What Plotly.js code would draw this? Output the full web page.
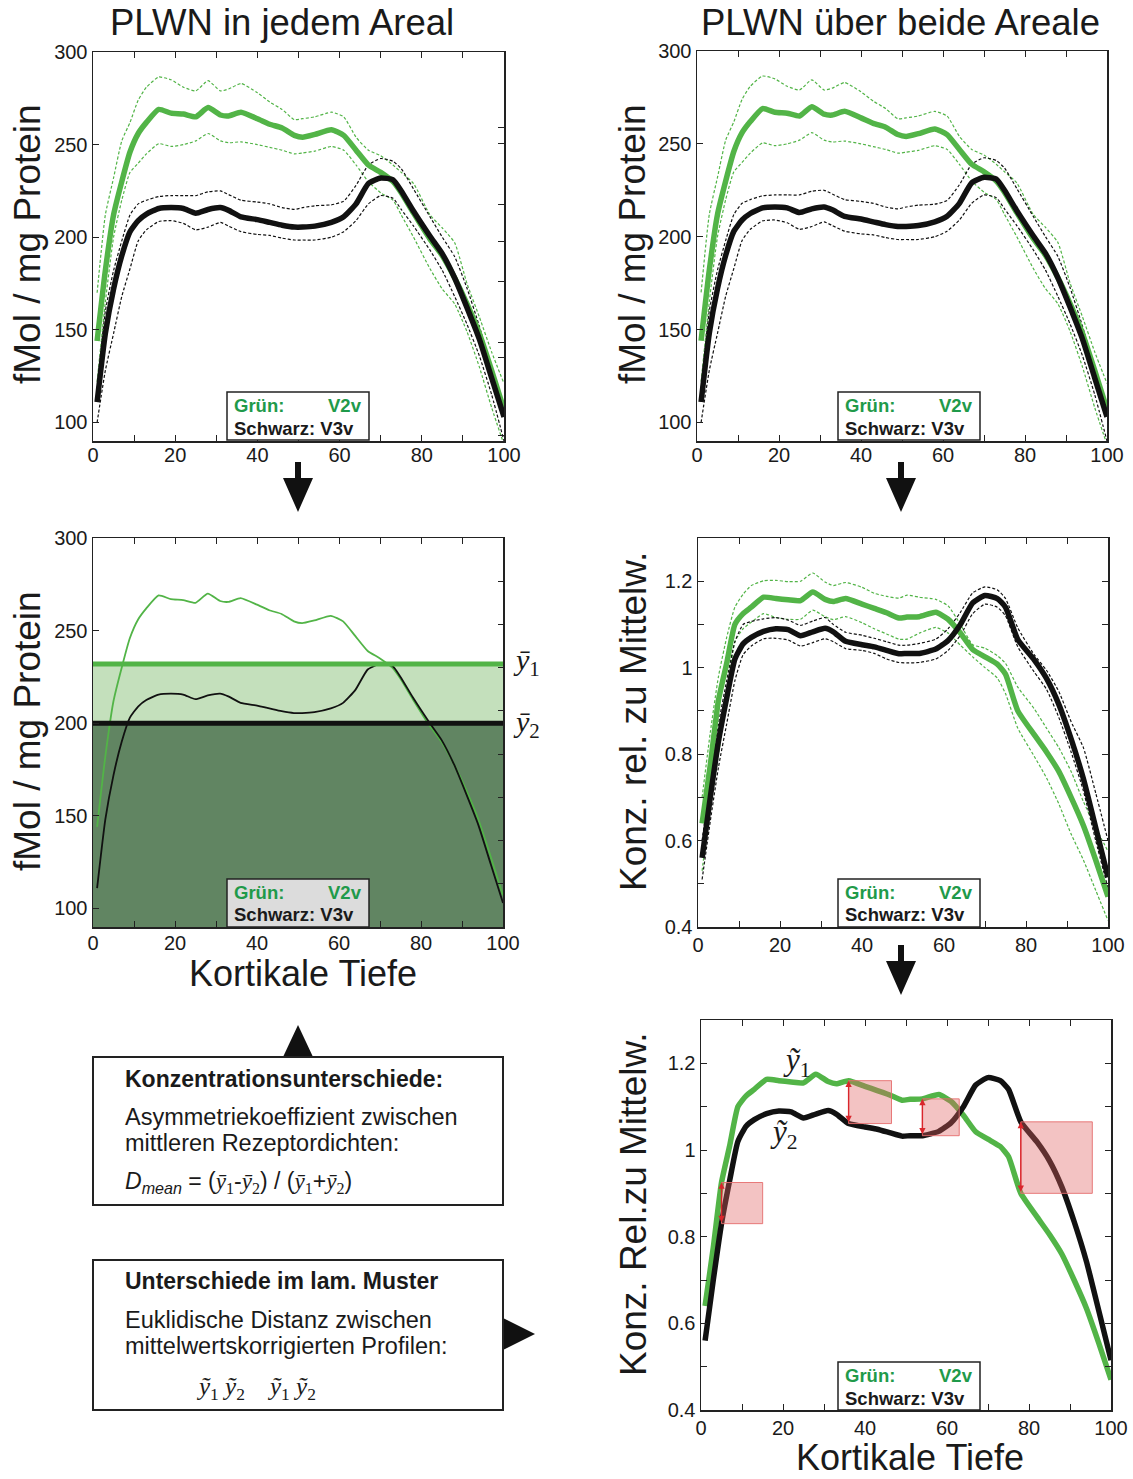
<!DOCTYPE html>
<html><head><meta charset="utf-8">
<script src="https://cdn.plot.ly/plotly-3.0.1.min.js"></script>
<style>body{margin:0;background:#fff}#c{width:1133px;height:1479px}</style>
</head><body><div id="c"></div>
<script>
// ---------- data ----------
const depth = [1,3,5,7,9,11,13,16,19,22,25,28,31,33,36,40,43,46,49,51,54,58,61,64,67,70,73,75,78,82,85,88,91,94,97,100];
// fMol / mg Protein
const v2vMean  = [144,182,212,230,246,256,262,269,267,266.5,265,270,266,265.5,267.5,264,261,259,255,254,255.5,258,255,247,239,235,230,224,213,199,190,178,164,148,128,107];
const v2vUpper = [170,212,232,252,262,274,281,286.5,285,281,279,284.5,279,280,283,278,273,269,263.5,264,265,267.5,265,254,247,244,239,235,229,212,205,197,175,157,138,121];
const v2vLower = [122,165,200,220,235,240,245,250.5,249,250,252,256,252,251,251.5,250,248.5,247,245,245.5,246.5,249,247,239,230,224,220,212,200,183,172,164,149,130,108,88];
const v3vMean  = [111,148,172,190,203,209,212.5,215.5,216,215.5,213,215,216,214.5,211,209.5,208,206.5,205.5,205.5,206,208,211,218,229,232,231,225,214,200.5,191,178,162,145,124,103];
const v3vUpper = [118,160,182,198,212,218,220,222,222.5,222.5,222.5,224.5,225,223,220,219,218,216,215,216,217,217.5,219.5,228,239,242.5,241,237,226,211,200,189.5,172.5,152,129,106];
const v3vLower = [100,128,148,168,183,198,204,208.5,209,207.5,204,205.5,208,206,203,201.5,201,199.5,198.5,198.5,198.5,200,203,209,218,222.5,221,215,206,193,182,168,153,136,115,90];
// mean values over the profile
const v2vAvg = 232, v3vAvg = 200;
// relative to mean
const v2vRel      = [0.64,0.775,0.925,1.01,1.10,1.125,1.14,1.163,1.16,1.157,1.155,1.175,1.158,1.153,1.16,1.147,1.137,1.127,1.115,1.117,1.118,1.128,1.112,1.08,1.042,1.025,1.008,0.985,0.90,0.845,0.805,0.76,0.70,0.635,0.555,0.47];
const v2vRelUpper = [0.70,0.85,0.98,1.07,1.14,1.17,1.19,1.201,1.202,1.199,1.20,1.219,1.198,1.19,1.197,1.186,1.172,1.165,1.161,1.168,1.163,1.158,1.143,1.10,1.053,1.045,1.028,1.01,0.955,0.905,0.86,0.815,0.76,0.69,0.63,0.575];
const v2vRelLower = [0.53,0.68,0.80,0.93,1.06,1.09,1.105,1.125,1.116,1.112,1.112,1.133,1.118,1.111,1.118,1.104,1.09,1.078,1.066,1.066,1.08,1.093,1.08,1.052,1.025,1.00,0.976,0.94,0.86,0.795,0.745,0.685,0.615,0.555,0.485,0.415];
const v3vRel      = [0.56,0.70,0.83,0.93,1.02,1.055,1.07,1.084,1.09,1.088,1.074,1.083,1.091,1.083,1.061,1.053,1.048,1.04,1.032,1.033,1.033,1.043,1.063,1.10,1.15,1.167,1.16,1.14,1.065,1.018,0.975,0.915,0.835,0.743,0.63,0.515];
const v3vRelUpper = [0.60,0.74,0.87,0.97,1.06,1.10,1.107,1.113,1.116,1.11,1.098,1.108,1.116,1.10,1.082,1.075,1.068,1.06,1.052,1.052,1.056,1.066,1.09,1.128,1.173,1.187,1.18,1.16,1.092,1.03,0.994,0.945,0.875,0.815,0.71,0.60];
const v3vRelLower = [0.51,0.645,0.77,0.87,0.97,1.03,1.05,1.067,1.068,1.064,1.05,1.058,1.067,1.06,1.044,1.04,1.033,1.02,1.012,1.011,1.012,1.02,1.04,1.075,1.125,1.147,1.14,1.12,1.048,0.99,0.95,0.885,0.805,0.715,0.60,0.49];
// depths where the differences are illustrated
const diffDepths = [5,36,54,78];
// tick labels
const xTickVals = [0,20,40,60,80,100];
const xTickText = ['0','20','40','60','80','100'];
const absTickVals = [100,150,200,250,300];
const absTickText = ['100','150','200','250','300'];
const relTickVals = [0.4,0.6,0.8,1.0,1.2];
const relTickText = ['0.4','0.6','0.8','1','1.2'];

// ---------- layout helpers ----------
const W=1133,H=1479;
const PX=x=>x/W, PY=y=>1-y/H;
const GREEN='#52b447', BLACK='#111111', LEG_GREEN='#1f9a4a';
const SANS='Liberation Sans, Arial, sans-serif';
const SERIF='Liberation Serif, Times New Roman, serif';
const TXT='#1a1a1a';

const P = {
  1:{x0:93,x1:504,y0:52,y1:441,so:-5},
  2:{x0:697,x1:1107,y0:51,y1:441,so:-5},
  3:{x0:93,x1:503,y0:538,y1:927,so:-3},
  4:{x0:698,x1:1108,y0:538,y1:927,so:-1},
  5:{x0:701,x1:1111,y0:1020,y1:1410,so:-1}
};
function xa(i){const p=P[i];return {domain:[PX(p.x0),PX(p.x1)],anchor:'y'+(i===1?'':i),range:[0,100],
  tickmode:'array',tickvals:xTickVals,ticktext:xTickText,ticks:'inside',ticklen:6,tickwidth:1,tickcolor:'#222',
  minor:{dtick:10,tick0:0,ticks:'inside',ticklen:6,tickwidth:1,tickcolor:'#222'},
  ticklabelstandoff:p.so,
  showline:true,linewidth:1.5,linecolor:'#222',mirror:'ticks',zeroline:false,showgrid:false,
  tickfont:{family:SANS,size:20,color:TXT},fixedrange:true};}
function ya(i,range,vals,text,mirror,minor){const p=P[i];const o={domain:[PY(p.y1),PY(p.y0)],anchor:'x'+(i===1?'':i),range:range,
  tickmode:'array',tickvals:vals,ticktext:text,ticks:'inside',ticklen:6,tickwidth:1,tickcolor:'#222',
  showline:true,linewidth:1.5,linecolor:'#222',mirror:mirror,zeroline:false,showgrid:false,
  tickfont:{family:SANS,size:20,color:TXT},fixedrange:true};
  if(minor) o.minor={dtick:minor,tick0:0.4,ticks:'inside',ticklen:6,tickwidth:1,tickcolor:'#222'};
  return o;}
function rightTicks(over,range,vals){return {overlaying:over,side:'right',range:range,tickmode:'array',tickvals:vals,
  showticklabels:false,ticks:'inside',ticklen:6,tickwidth:1,tickcolor:'#222',showline:false,zeroline:false,showgrid:false,fixedrange:true};}

const traces=[];
function line(xa_,ya_,y,color,width,dash){traces.push({x:depth,y:y,xaxis:xa_,yaxis:ya_,mode:'lines',
  line:{color:color,width:width,dash:dash||'solid',shape:'spline',smoothing:0.5},hoverinfo:'skip',showlegend:false});}
function bands(xa_,ya_,gu,gl,ku,kl,gm,km){
  line(xa_,ya_,gu,GREEN,1.2,'3px,2px');line(xa_,ya_,gl,GREEN,1.2,'3px,2px');
  line(xa_,ya_,ku,BLACK,1.2,'3px,2px');line(xa_,ya_,kl,BLACK,1.2,'3px,2px');
  line(xa_,ya_,gm,GREEN,5.5);line(xa_,ya_,km,BLACK,5.5);
}
// panel 1 & 2
bands('x','y',v2vUpper,v2vLower,v3vUpper,v3vLower,v2vMean,v3vMean);
bands('x2','y2',v2vUpper,v2vLower,v3vUpper,v3vLower,v2vMean,v3vMean);
// panel 3
traces.push({x:[0,100],y:[v2vAvg,v2vAvg],xaxis:'x3',yaxis:'y3',mode:'lines',line:{width:0},fill:'tozeroy',fillcolor:'#c4e0bc',hoverinfo:'skip',showlegend:false});
traces.push({x:[0,100],y:[v3vAvg,v3vAvg],xaxis:'x3',yaxis:'y3',mode:'lines',line:{width:0},fill:'tozeroy',fillcolor:'#618562',hoverinfo:'skip',showlegend:false});
line('x3','y3',v2vMean,GREEN,1.8);
line('x3','y3',v3vMean,BLACK,1.8);
traces.push({x:[0,100],y:[v2vAvg,v2vAvg],xaxis:'x3',yaxis:'y3',mode:'lines',line:{width:5,color:GREEN},hoverinfo:'skip',showlegend:false});
traces.push({x:[0,100],y:[v3vAvg,v3vAvg],xaxis:'x3',yaxis:'y3',mode:'lines',line:{width:5,color:BLACK},hoverinfo:'skip',showlegend:false});
// panel 4
bands('x4','y4',v2vRelUpper,v2vRelLower,v3vRelUpper,v3vRelLower,v2vRel,v3vRel);
// panel 5
line('x5','y5',v2vRel,GREEN,5.5);
line('x5','y5',v3vRel,BLACK,5.5);
// dummy traces for right tick axes
['y6','y7','y8'].forEach((yy,k)=>traces.push({x:[50],y:[0.5],xaxis:['x','x2','x3'][k],yaxis:yy,mode:'markers',marker:{opacity:0},hoverinfo:'skip',showlegend:false}));

const shapes=[], ann=[];
function box(x0,y0,x1,y1,fill,lw){shapes.push({type:'rect',xref:'paper',yref:'paper',x0:PX(x0),x1:PX(x1),y0:PY(y1),y1:PY(y0),
  fillcolor:fill,line:{color:'#222',width:lw||1.5},layer:'above'});}
function text(t,x,y,size,opts){ann.push(Object.assign({text:t,xref:'paper',yref:'paper',x:PX(x),y:PY(y),showarrow:false,borderpad:0,
  xanchor:'center',yanchor:'middle',font:{family:SANS,size:size,color:TXT}},opts||{}));}
function poly(pts){shapes.push({type:'path',xref:'paper',yref:'paper',path:'M'+pts.map(p=>PX(p[0])+','+PY(p[1])).join('L')+'Z',
  fillcolor:'#111',line:{width:0},layer:'above'});}
function legend(x0,y0,fill){box(x0,y0,x0+142,y0+48,fill,1.5);
  text('<b>Grün:</b>',x0+6,y0+13,18.5,{xanchor:'left',font:{family:SANS,size:18.5,color:LEG_GREEN}});
  text('<b>V2v</b>',x0+136,y0+13,18.5,{xanchor:'right',font:{family:SANS,size:18.5,color:LEG_GREEN}});
  text('<b>Schwarz: V3v</b>',x0+6,y0+36,18.5,{xanchor:'left'});}
legend(227,392,'#ffffff');
legend(838,392,'#ffffff');
legend(227,879,'#dcdcdc');
legend(838,879,'#ffffff');
legend(838,1362,'#ffffff');

// titles
text('PLWN in jedem Areal',282,22,36.5);
text('PLWN über beide Areale',900,22,36.5);
text('fMol / mg Protein',28,244,37,{textangle:-90});
text('fMol / mg Protein',633,244,37,{textangle:-90});
text('fMol / mg Protein',28,731,37,{textangle:-90});
text('Konz. rel. zu Mittelw.',633,722,37,{textangle:-90});
text('Konz. Rel.zu Mittelw.',633,1205,37,{textangle:-90});
text('Kortikale Tiefe',303,973,36);
text('Kortikale Tiefe',910,1457,36);
// mean labels
text('<i>ȳ</i><sub>1</sub>',526,662,30,{font:{family:SERIF,size:30,color:TXT}});
text('<i>ȳ</i><sub>2</sub>',526,724,30,{font:{family:SERIF,size:30,color:TXT}});
text('<i>ỹ</i><sub>1</sub>',797,1062,31,{font:{family:SERIF,size:31,color:TXT}});
text('<i>ỹ</i><sub>2</sub>',784,1134,31,{font:{family:SERIF,size:31,color:TXT}});

// arrows
function down(cx,top,bot){poly([[cx-3,top],[cx+3,top],[cx+3,bot-34],[cx+15,bot-34],[cx,bot],[cx-15,bot-34],[cx-3,bot-34]]);}
down(298,462,512); down(901,462,512); down(901,945,995);
poly([[283,1057],[298,1025],[313,1057]]);
poly([[503,1318],[535,1334],[503,1350]]);

// text boxes
box(93,1057,503,1205,'rgba(255,255,255,0)',2);
box(93,1260,503,1410,'rgba(255,255,255,0)',2);
text('<b>Konzentrationsunterschiede:</b>',124,1079,23,{xanchor:'left'});
text('Asymmetriekoeffizient zwischen',124,1117,23.5,{xanchor:'left'});
text('mittleren Rezeptordichten:',124,1143,23.5,{xanchor:'left'});
const ys=(s)=>"<span style='font-family:Liberation Serif,serif'><i>ȳ</i><sub>"+s+"</sub></span>";
text('<i>D</i><sub><i>mean</i></sub> = ('+ys(1)+'-'+ys(2)+') / ('+ys(1)+'+'+ys(2)+')',124,1182,23,{xanchor:'left'});
text('<b>Unterschiede im lam. Muster</b>',124,1281,23,{xanchor:'left'});
text('Euklidische Distanz zwischen',124,1320,23.5,{xanchor:'left'});
text('mittelwertskorrigierten Profilen:',124,1346,23.5,{xanchor:'left'});
text('<i>ỹ</i><sub>1</sub> <i>ỹ</i><sub>2</sub>    <i>ỹ</i><sub>1</sub> <i>ỹ</i><sub>2</sub>',195,1388,25,{xanchor:'left',font:{family:SERIF,size:25,color:TXT}});

// difference squares in panel 5 (from data)
const pxPerY = (P[5].y1-P[5].y0)/0.9, pxPerX=(P[5].x1-P[5].x0)/100;
diffDepths.forEach(d=>{const i=depth.indexOf(d);const a=v2vRel[i],b=v3vRel[i];const lo=Math.min(a,b),hi=Math.max(a,b);
  const w=(hi-lo)*pxPerY/pxPerX;
  shapes.push({type:'rect',xref:'x5',yref:'y5',x0:d,x1:d+w,y0:lo,y1:hi,fillcolor:'rgba(224,96,96,0.38)',line:{color:'rgba(230,110,110,0.9)',width:1},layer:'above'});
  ann.push({xref:'x5',yref:'y5',axref:'x5',ayref:'y5',x:d,y:hi,ax:d,ay:lo,text:'',showarrow:true,arrowside:'end+start',
    arrowhead:2,arrowsize:0.9,arrowwidth:1.4,arrowcolor:'#d9262c',standoff:0,startstandoff:0});
});

const layout={width:W,height:H,margin:{l:0,r:0,t:0,b:0},paper_bgcolor:'#fff',plot_bgcolor:'rgba(0,0,0,0)',showlegend:false,
  xaxis:xa(1),xaxis2:xa(2),xaxis3:xa(3),xaxis4:xa(4),xaxis5:xa(5),
  yaxis:ya(1,[90,300],absTickVals,absTickText,true),
  yaxis2:ya(2,[90,300],absTickVals,absTickText,true),
  yaxis3:ya(3,[90,300],absTickVals,absTickText,true),
  yaxis4:ya(4,[0.4,1.3],relTickVals,relTickText,'ticks',0.1),
  yaxis5:ya(5,[0.4,1.3],relTickVals,relTickText,'ticks',0.1),
  yaxis6:rightTicks('y',[0,1],[0.2545,0.5116,0.766]),
  yaxis7:rightTicks('y2',[0,1],[0.015,0.213,0.41,0.6077,0.805]),
  yaxis8:rightTicks('y3',[0.4,1.3],[0.5,0.6,0.7,0.8,0.9,1.0,1.1,1.2]),
  shapes:shapes,annotations:ann};
Plotly.newPlot('c',traces,layout,{staticPlot:true,displayModeBar:false});
</script></body></html>
